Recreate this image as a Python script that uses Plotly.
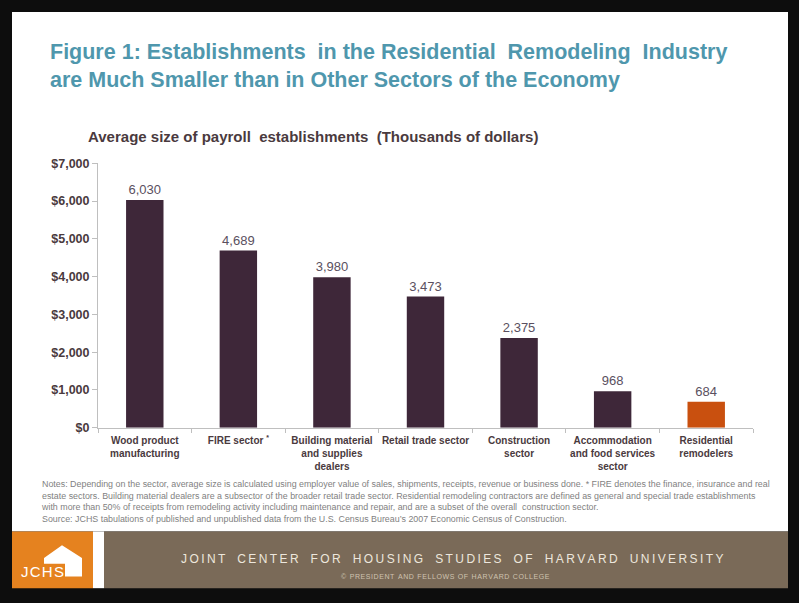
import plotly.graph_objects as go

categories = [
    "Wood product<br>manufacturing",
    "FIRE sector <sup>*</sup>",
    "Building material<br>and supplies<br>dealers",
    "Retail trade sector",
    "Construction<br>sector",
    "Accommodation<br>and food services<br>sector",
    "Residential<br>remodelers",
]
values = [6030, 4689, 3980, 3473, 2375, 968, 684]
bar_colors = ["#3e2739"] * 6 + ["#c9500f"]
y_ticks = [0, 1000, 2000, 3000, 4000, 5000, 6000, 7000]

W, H = 799, 603
def px(x):
    return x / W
def py(y):
    return 1 - y / H

FONT = "Liberation Sans, Arial, sans-serif"

def spaced(s, sep="\u2009", word="\u2003"):
    return word.join(sep.join(w) for w in s.split(" "))

fig = go.Figure()
fig.add_trace(go.Bar(
    x=categories, y=values,
    marker=dict(color=bar_colors, line=dict(width=0)),
    text=[f"{v:,}" for v in values],
    textposition="outside",
    textfont=dict(family=FONT, size=13, color="#5a5060"),
    cliponaxis=False,
    hoverinfo="skip",
))

shapes = [
    dict(type="rect", xref="paper", yref="paper", x0=px(12), x1=px(788), y0=py(537), y1=py(5),
         fillcolor="white", line=dict(width=0), layer="below"),
    dict(type="rect", xref="paper", yref="paper", x0=px(12), x1=px(93), y0=py(595), y1=py(537),
         fillcolor="#e5821f", line=dict(width=0), layer="below"),
    dict(type="rect", xref="paper", yref="paper", x0=px(93), x1=px(104), y0=py(595), y1=py(537),
         fillcolor="white", line=dict(width=0), layer="below"),
    dict(type="rect", xref="paper", yref="paper", x0=px(104), x1=px(788), y0=py(595), y1=py(537),
         fillcolor="#7a6a58", line=dict(width=0), layer="below"),
]
house = [(44, 570), (44, 564), (62, 551), (82, 564), (82, 583), (65, 583), (65, 570)]
path = "M " + " L ".join(f"{px(x)},{py(y)}" for x, y in house) + " Z"
shapes.append(dict(type="path", xref="paper", yref="paper", path=path,
                   fillcolor="white", line=dict(width=0), layer="above"))

notes = ("Notes: Depending on the sector, average size is calculated using employer value of sales, shipments, receipts, revenue or business done. * FIRE denotes the finance, insurance and real<br>"
         "estate sectors. Building material dealers are a subsector of the broader retail trade sector. Residential remodeling contractors are defined as general and special trade establishments<br>"
         "with more than 50% of receipts from remodeling activity including maintenance and repair, and are a subset of the overall  construction sector.<br>"
         "Source: JCHS tabulations of published and unpublished data from the U.S. Census Bureau\u2019s 2007 Economic Census of Construction.")

annotations = [
    dict(text="Figure 1: Establishments  in the Residential  Remodeling  Industry<br>are Much Smaller than in Other Sectors of the Economy",
         x=px(48), y=py(32), xref="paper", yref="paper", xanchor="left", yanchor="top",
         showarrow=False, align="left",
         font=dict(family=FONT, size=21.5, color="#4f97ad", weight="bold")),
    dict(text="Average size of payroll  establishments  (Thousands of dollars)",
         x=px(86), y=py(133), xref="paper", yref="paper", xanchor="left", yanchor="middle",
         showarrow=False, font=dict(family=FONT, size=15, color="#4a3a3e", weight="bold")),
    dict(text=notes,
         x=px(39), y=py(481), xref="paper", yref="paper", xanchor="left", yanchor="top",
         showarrow=False, align="left",
         font=dict(family=FONT, size=8.9, color="#7f7f7f")),
    dict(text=spaced("JOINT CENTER FOR HOUSING STUDIES OF HARVARD UNIVERSITY"),
         x=px(452), y=py(565.5), xref="paper", yref="paper", xanchor="center", yanchor="middle",
         showarrow=False, font=dict(family=FONT, size=12, color="#ede7dd")),
    dict(text=spaced("\u00a9 PRESIDENT AND FELLOWS OF HARVARD COLLEGE", sep="\u200a", word="\u2002"),
         x=px(445), y=py(583), xref="paper", yref="paper", xanchor="center", yanchor="middle",
         showarrow=False, font=dict(family=FONT, size=7, color="#cfc3b0")),
    dict(text=spaced("JCHS", sep="\u200a"),
         x=px(42.5), y=py(577.5), xref="paper", yref="paper", xanchor="center", yanchor="middle",
         showarrow=False, font=dict(family=FONT, size=15, color="white")),
]

fig.update_layout(
    width=W, height=H,
    margin=dict(l=0, r=0, t=0, b=0),
    paper_bgcolor="#0d0d0d",
    plot_bgcolor="rgba(0,0,0,0)",
    showlegend=False,
    bargap=0.6,
    shapes=shapes,
    annotations=annotations,
    xaxis=dict(
        domain=[px(98), px(753)],
        showline=True, linecolor="#bfbfbf", linewidth=1,
        ticks="outside", tickson="boundaries", ticklen=4, tickcolor="#bfbfbf",
        tickangle=0, ticklabelstandoff=3,
        tickfont=dict(family=FONT, size=10, color="#4a3a3e", weight="bold"),
        showgrid=False, fixedrange=True,
    ),
    yaxis=dict(
        domain=[py(430.7), py(160)],
        range=[0, 7000],
        tickvals=y_ticks,
        ticktext=[f"${v:,}" for v in y_ticks],
        showline=True, linecolor="#bfbfbf", linewidth=1,
        ticks="outside", ticklen=5, tickcolor="#bfbfbf",
        tickfont=dict(family=FONT, size=12.5, color="#4a3a3e", weight="bold"),
        showgrid=False, zeroline=False, fixedrange=True,
    ),
)

post = (
    "document.documentElement.style.margin='0';"
    "document.body.style.margin='0';document.body.style.overflow='hidden';"
)
fig.write_html("out.html", config={"displayModeBar": False}, post_script=post)
